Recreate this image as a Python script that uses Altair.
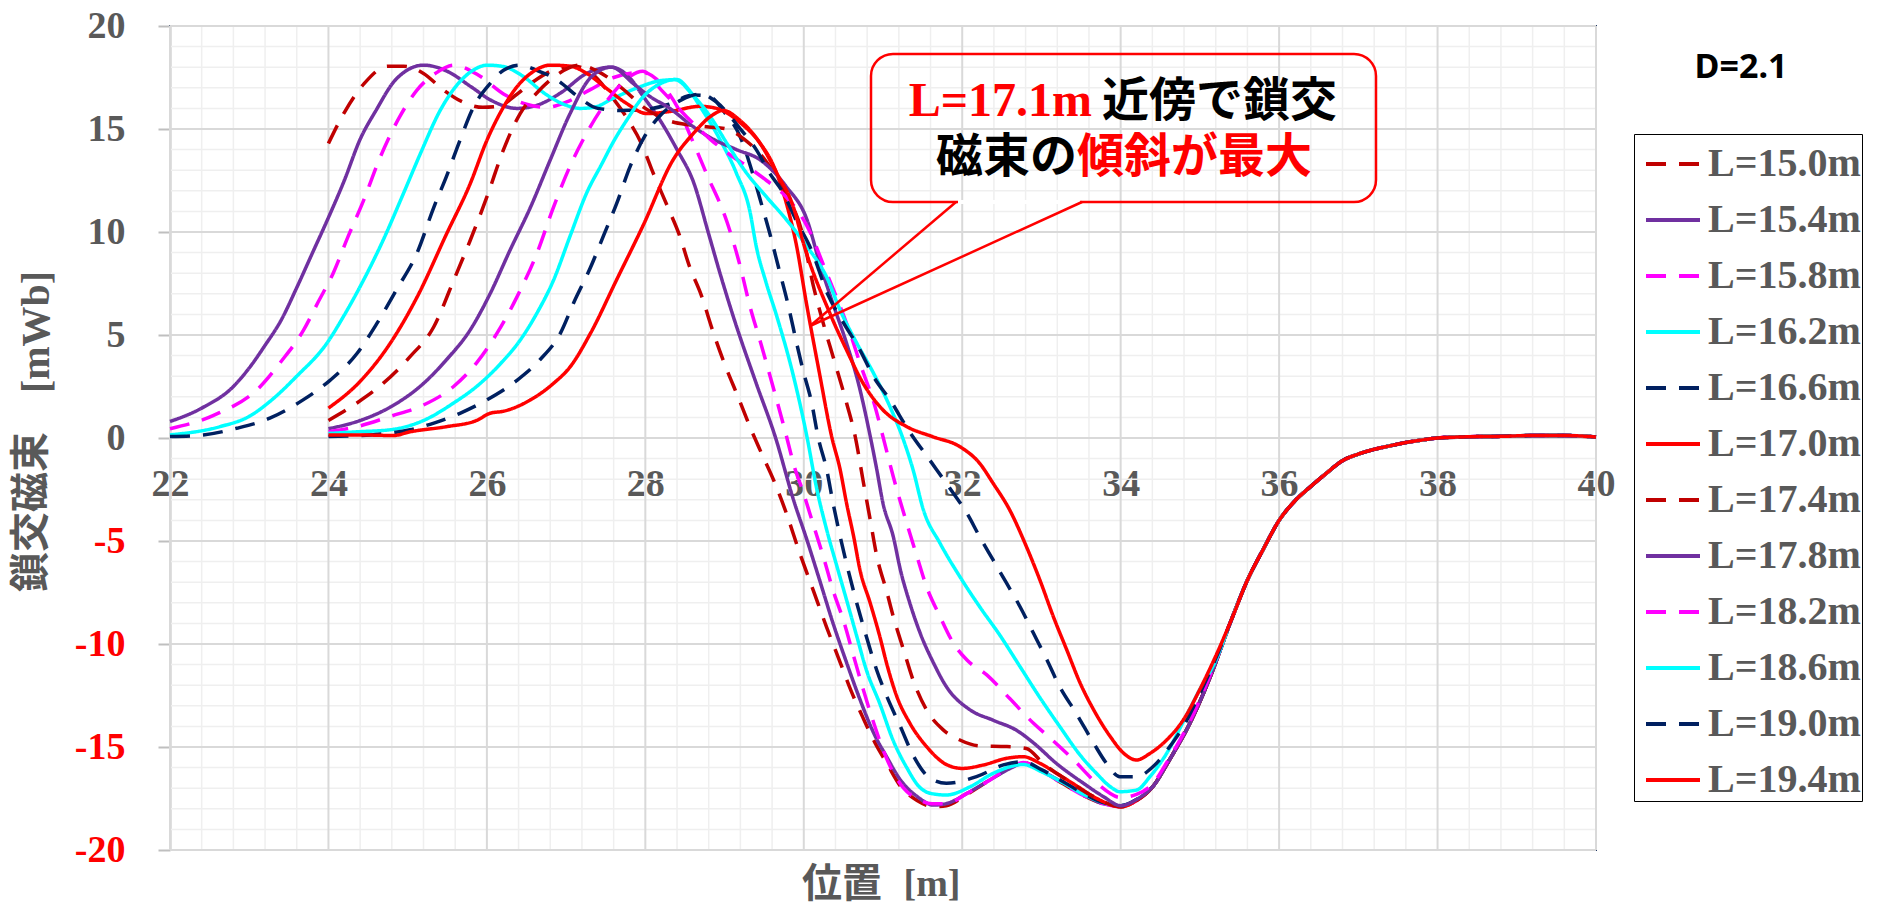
import altair as alt
import pandas as pd

LABELS = ["L=15.0m", "L=15.4m", "L=15.8m", "L=16.2m", "L=16.6m", "L=17.0m",
          "L=17.4m", "L=17.8m", "L=18.2m", "L=18.6m", "L=19.0m", "L=19.4m"]
COLORS = ["#C00000", "#7030A0", "#FF00FF", "#00FFFF", "#002060", "#FF0000",
          "#C00000", "#7030A0", "#FF00FF", "#00FFFF", "#002060", "#FF0000"]
DASHES = [[20, 13], [1, 0], [20, 13], [1, 0], [20, 13], [1, 0],
          [20, 13], [1, 0], [20, 13], [1, 0], [20, 13], [1, 0]]

S15_0 = [(24.0, 14.3), (24.2, 15.8), (24.45, 17.2), (24.75, 18.05), (24.95, 18.05), (25.2, 17.7),
         (25.45, 16.9), (25.7, 16.3), (25.95, 16.05), (26.15, 16.1), (26.35, 16.6), (26.55, 17.2),
         (26.8, 17.8), (27.1, 18.05), (27.35, 17.6), (27.57, 16.6), (27.79, 15.4), (27.95, 14.3),
         (28.1, 12.85), (28.29, 11.15), (28.43, 9.85), (28.56, 8.3), (28.7, 7.0), (28.86, 5.1),
         (29.0, 3.6), (29.17, 2.0), (29.32, 0.55), (29.45, -0.6), (29.62, -2.05), (29.78, -3.65),
         (29.95, -5.6), (30.12, -7.4), (30.29, -9.2), (30.46, -10.9), (30.6, -12.3), (30.75, -13.6),
         (30.9, -14.8), (31.05, -15.8), (31.22, -16.9), (31.43, -17.6), (31.65, -17.9), (31.8, -17.85),
         (32.06, -17.3), (32.35, -16.6), (32.6, -16.0), (32.77, -15.75), (33.02, -16.2), (33.28, -16.8),
         (33.53, -17.35), (33.78, -17.75), (34.0, -17.9), (34.2, -17.6), (34.4, -16.95), (34.62, -15.6),
         (34.88, -13.8), (35.13, -11.6)]
S15_4 = [(22.0, 0.8), (22.4, 1.45), (22.8, 2.5), (23.0, 3.4), (23.2, 4.5), (23.4, 5.7), (23.6, 7.3),
         (23.8, 9.0), (24.0, 10.7), (24.2, 12.5), (24.4, 14.5), (24.6, 15.9), (24.85, 17.4), (25.2, 18.1),
         (25.5, 17.8), (25.8, 17.05), (26.05, 16.4), (26.38, 16.0), (26.63, 16.15), (26.93, 16.75),
         (27.26, 17.7), (27.57, 18.0), (27.8, 17.5), (27.97, 16.6), (28.19, 15.4), (28.4, 14.0),
         (28.61, 12.4), (28.8, 9.9), (28.95, 7.9), (29.11, 5.9), (29.4, 2.65), (29.64, 0.06),
         (29.87, -3.0), (30.04, -4.95), (30.2, -6.9), (30.37, -9.0), (30.54, -10.9), (30.71, -12.7),
         (30.88, -14.3), (31.05, -15.5), (31.22, -16.6), (31.43, -17.4), (31.64, -17.82), (31.8, -17.75),
         (32.06, -17.25), (32.35, -16.6), (32.6, -16.05), (32.77, -15.8), (33.02, -16.2), (33.28, -16.75),
         (33.53, -17.3), (33.78, -17.75), (34.0, -17.85), (34.2, -17.57), (34.4, -16.95), (34.62, -15.6),
         (34.88, -13.8), (35.13, -11.6)]
S15_8 = [(22.0, 0.45), (22.55, 1.1), (23.14, 2.5), (23.4, 3.7), (23.68, 5.2), (23.87, 6.6), (24.06, 8.0),
         (24.25, 9.8), (24.44, 11.5), (24.65, 13.6), (24.9, 15.6), (25.12, 16.9), (25.35, 17.7),
         (25.58, 18.1), (25.9, 17.6), (26.21, 16.7), (26.5, 16.2), (26.75, 16.05), (27.0, 16.3),
         (27.3, 16.9), (27.6, 17.5), (27.97, 17.75), (28.2, 17.2), (28.4, 16.1), (28.61, 14.3),
         (28.77, 12.85), (29.03, 10.5), (29.2, 8.3), (29.32, 6.4), (29.45, 4.7), (29.64, 2.1),
         (29.76, 0.4), (29.89, -1.5), (29.99, -2.6), (30.12, -4.2), (30.25, -5.8), (30.37, -7.4),
         (30.5, -8.85), (30.63, -10.6), (30.75, -12.2), (30.88, -13.8), (31.05, -15.6), (31.26, -17.0),
         (31.45, -17.55), (31.62, -17.75), (31.8, -17.75), (32.06, -17.25), (32.35, -16.6), (32.6, -16.0),
         (32.77, -15.75), (33.02, -16.2), (33.28, -16.8), (33.53, -17.35), (33.78, -17.75), (34.0, -17.9),
         (34.2, -17.6), (34.4, -16.95), (34.62, -15.6), (34.88, -13.8), (35.13, -11.6)]
S16_2 = [(22.0, 0.15), (22.63, 0.55), (23.0, 1.05), (23.3, 1.9), (23.6, 3.0), (23.98, 4.6), (24.19, 5.9),
         (24.4, 7.35), (24.69, 9.6), (24.95, 11.9), (25.16, 13.8), (25.41, 15.9), (25.66, 17.3),
         (25.87, 17.95), (26.0, 18.1), (26.21, 18.03), (26.46, 17.55), (26.72, 16.75), (26.97, 16.2),
         (27.18, 16.0), (27.35, 16.05), (27.6, 16.5), (27.9, 17.0), (28.2, 17.35), (28.4, 17.4),
         (28.55, 16.9), (28.69, 16.1), (28.94, 14.5), (29.15, 12.85), (29.32, 11.0), (29.4, 9.3),
         (29.52, 7.6), (29.66, 5.9), (29.87, 3.0), (30.04, 0.06), (30.16, -2.4), (30.29, -4.47),
         (30.42, -6.25), (30.54, -7.86), (30.67, -9.64), (30.79, -11.26), (30.96, -12.9), (31.13, -14.7),
         (31.3, -16.0), (31.45, -16.9), (31.6, -17.25), (31.8, -17.33), (32.1, -16.93), (32.39, -16.28),
         (32.77, -15.85), (33.0, -16.2), (33.28, -16.75), (33.53, -17.3), (33.78, -17.7), (34.0, -17.85),
         (34.2, -17.55), (34.4, -16.95), (34.62, -15.6), (34.88, -13.8), (35.13, -11.6)]
S16_6 = [(22.0, 0.07), (22.42, 0.15), (22.84, 0.47), (23.26, 0.96), (23.68, 1.85), (24.02, 2.8),
         (24.36, 4.1), (24.61, 5.55), (24.86, 7.2), (25.12, 9.0), (25.33, 11.2), (25.49, 12.7),
         (25.66, 14.45), (25.83, 16.05), (26.04, 17.2), (26.21, 17.85), (26.42, 18.1), (26.63, 17.85),
         (26.88, 17.4), (27.14, 16.6), (27.4, 16.0), (27.7, 15.9), (28.0, 15.95), (28.3, 16.2),
         (28.6, 16.65), (28.8, 16.6), (29.0, 15.8), (29.2, 14.6), (29.35, 12.9), (29.47, 11.3),
         (29.58, 9.8), (29.68, 8.3), (29.8, 6.5), (29.91, 4.6), (29.99, 3.3), (30.1, 1.7), (30.18, 0.06),
         (30.29, -1.55), (30.37, -3.17), (30.46, -4.79), (30.56, -6.41), (30.67, -8.03), (30.79, -9.64),
         (30.92, -11.26), (31.05, -12.56), (31.22, -14.01), (31.38, -15.4), (31.59, -16.5), (31.8, -16.76),
         (32.18, -16.44), (32.52, -15.87), (32.77, -15.71), (33.0, -16.1), (33.28, -16.7), (33.53, -17.25),
         (33.78, -17.7), (34.0, -17.85), (34.2, -17.55), (34.4, -16.95), (34.62, -15.6), (34.88, -13.8),
         (35.13, -11.6)]
S17_0 = [(24.0, 1.45), (24.4, 2.75), (24.78, 4.6), (25.12, 6.85), (25.49, 9.9), (25.79, 12.35),
         (26.0, 14.45), (26.2, 16.0), (26.38, 17.05), (26.59, 17.8), (26.8, 18.1), (27.05, 18.05),
         (27.26, 17.7), (27.5, 17.0), (27.76, 16.25), (28.02, 15.75), (28.31, 15.85), (28.69, 16.1),
         (28.9, 16.0), (29.2, 15.3), (29.45, 14.3), (29.62, 13.2), (29.78, 11.4), (29.9, 9.5),
         (30.04, 6.4), (30.2, 3.1), (30.35, 0.1), (30.46, -1.55), (30.54, -3.17), (30.63, -4.79),
         (30.71, -6.41), (30.84, -8.03), (30.96, -9.64), (31.05, -11.0), (31.17, -12.5), (31.34, -13.85),
         (31.55, -14.98), (31.8, -15.85), (32.0, -16.04), (32.27, -15.87), (32.56, -15.55), (32.77, -15.47),
         (32.98, -15.79), (33.2, -16.3), (33.45, -16.9), (33.7, -17.5), (34.0, -17.9), (34.2, -17.6),
         (34.4, -16.95), (34.62, -15.6), (34.88, -13.8), (35.13, -11.6)]
S17_4 = [(24.0, 0.85), (24.36, 1.7), (24.69, 2.65), (25.03, 3.95), (25.33, 5.4), (25.58, 7.65),
         (25.79, 9.6), (26.0, 11.7), (26.21, 14.0), (26.42, 15.75), (26.63, 16.75), (26.84, 17.5),
         (27.18, 18.1), (27.4, 17.8), (27.7, 17.0), (28.0, 16.0), (28.3, 15.4), (28.55, 15.2),
         (28.8, 15.1), (29.03, 15.0), (29.25, 14.5), (29.53, 13.4), (29.8, 11.7), (29.97, 10.1),
         (30.12, 7.4), (30.27, 5.24), (30.37, 3.95), (30.54, 1.7), (30.65, 0.06), (30.75, -2.1),
         (30.84, -4.0), (30.92, -5.7), (31.05, -7.5), (31.13, -8.67), (31.26, -10.29), (31.38, -11.75),
         (31.55, -13.2), (31.76, -14.17), (31.97, -14.66), (32.22, -14.95), (32.56, -14.98), (32.81, -15.07),
         (33.02, -15.79), (33.32, -16.6), (33.66, -17.41), (34.0, -17.9), (34.2, -17.6), (34.4, -16.95),
         (34.62, -15.6), (34.88, -13.8), (35.13, -11.6)]
S17_8 = [(24.0, 0.45), (24.4, 0.85), (24.78, 1.5), (25.2, 2.65), (25.49, 3.8), (25.79, 5.25), (26.04, 7.0),
         (26.29, 9.1), (26.55, 11.2), (26.8, 13.5), (27.05, 15.75), (27.31, 17.5), (27.57, 18.0),
         (27.85, 17.2), (28.05, 16.6), (28.31, 16.0), (28.61, 15.1), (28.86, 14.5), (29.15, 14.0),
         (29.45, 13.5), (29.78, 12.2), (30.04, 10.6), (30.2, 8.5), (30.37, 6.5), (30.54, 4.6),
         (30.69, 2.65), (30.84, 0.06), (30.92, -1.5), (31.0, -3.17), (31.13, -4.79), (31.22, -6.41),
         (31.34, -8.03), (31.47, -9.48), (31.64, -10.94), (31.8, -12.07), (32.1, -13.2), (32.39, -13.7),
         (32.69, -14.2), (32.9, -14.8), (33.19, -15.8), (33.53, -16.76), (33.78, -17.4), (34.0, -17.85),
         (34.2, -17.55), (34.4, -16.95), (34.62, -15.6), (34.88, -13.8), (35.13, -11.6)]
S18_2 = [(24.0, 0.3), (24.36, 0.55), (24.78, 1.05), (25.2, 1.6), (25.58, 2.5), (25.87, 3.65), (26.13, 5.1),
         (26.38, 6.85), (26.63, 8.95), (26.84, 11.2), (27.05, 13.2), (27.26, 14.8), (27.45, 16.0),
         (27.7, 17.2), (27.97, 17.8), (28.2, 16.9), (28.52, 15.6), (28.82, 14.5), (29.05, 13.8),
         (29.28, 13.2), (29.53, 12.5), (29.78, 11.7), (30.04, 10.3), (30.29, 8.0), (30.41, 6.86),
         (30.6, 4.92), (30.71, 3.62), (30.9, 1.52), (31.0, 0.06), (31.13, -1.88), (31.3, -4.14),
         (31.43, -5.76), (31.55, -7.22), (31.72, -8.67), (31.89, -9.97), (32.06, -10.78), (32.31, -11.5),
         (32.6, -12.65), (32.9, -13.85), (33.15, -14.7), (33.4, -15.6), (33.7, -16.76), (34.0, -17.45),
         (34.2, -17.3), (34.4, -16.8), (34.62, -15.5), (34.88, -13.7), (35.13, -11.5)]
S18_6 = [(24.0, 0.22), (24.36, 0.3), (24.78, 0.4), (25.2, 0.85), (25.58, 1.7), (25.87, 2.5), (26.17, 3.6),
         (26.42, 4.75), (26.63, 6.05), (26.84, 7.65), (27.05, 9.8), (27.26, 11.9), (27.45, 13.3),
         (27.6, 14.4), (27.76, 15.4), (27.97, 16.55), (28.19, 17.2), (28.37, 17.4), (28.61, 16.6),
         (28.82, 15.6), (29.03, 14.3), (29.28, 12.85), (29.53, 11.7), (29.78, 10.6), (30.04, 9.3),
         (30.29, 7.8), (30.46, 6.2), (30.67, 4.6), (30.88, 3.15), (31.09, 1.5), (31.24, 0.1),
         (31.38, -1.55), (31.51, -3.49), (31.72, -5.11), (31.97, -6.73), (32.22, -8.19), (32.48, -9.6),
         (32.73, -11.1), (32.98, -12.6), (33.23, -14.0), (33.49, -15.4), (33.7, -16.3), (33.87, -16.93),
         (33.99, -17.17), (34.2, -17.09), (34.37, -16.44), (34.58, -15.31), (34.8, -13.7), (35.0, -12.2),
         (35.2, -10.8)]
S19_0 = [(24.0, 0.07), (24.53, 0.15), (25.03, 0.4), (25.35, 0.75), (25.66, 1.2), (26.0, 1.85), (26.38, 2.8),
         (26.67, 3.8), (26.93, 5.1), (27.1, 6.6), (27.31, 8.3), (27.47, 9.8), (27.64, 11.4), (27.81, 13.2),
         (28.0, 14.7), (28.2, 15.7), (28.45, 16.4), (28.7, 16.7), (28.9, 16.3), (29.2, 15.0), (29.4, 14.0),
         (29.57, 12.85), (29.74, 11.9), (29.9, 10.6), (30.1, 9.1), (30.3, 7.0), (30.5, 5.6), (30.71, 4.27),
         (30.88, 2.98), (31.09, 1.84), (31.32, 0.39), (31.59, -1.07), (31.8, -2.2), (31.89, -2.69),
         (32.06, -3.66), (32.22, -4.79), (32.39, -5.92), (32.56, -7.05), (32.73, -8.19), (32.9, -9.48),
         (33.07, -10.78), (33.23, -12.07), (33.44, -13.37), (33.66, -14.82), (33.82, -15.79),
         (33.99, -16.44), (34.2, -16.44), (34.41, -15.95), (34.62, -14.98), (34.79, -14.01), (35.0, -12.4),
         (35.2, -10.7)]
S19_4 = [(24.0, 0.15), (24.4, 0.15), (24.82, 0.12), (25.03, 0.3), (25.49, 0.55), (25.87, 0.85), (26.04, 1.2),
         (26.21, 1.3), (26.55, 1.85), (26.84, 2.65), (27.05, 3.45), (27.31, 5.1), (27.64, 7.7), (27.97, 10.3),
         (28.35, 13.5), (28.61, 14.8), (28.82, 15.6), (28.98, 15.9), (29.2, 15.4), (29.45, 14.3),
         (29.66, 12.85), (29.87, 11.2), (30.0, 9.4), (30.33, 6.05), (30.54, 4.27), (30.75, 2.65),
         (31.0, 1.36), (31.3, 0.55), (31.63, 0.06), (31.97, -0.42), (32.22, -1.23), (32.39, -2.2),
         (32.6, -3.5), (32.81, -5.27), (32.98, -6.89), (33.15, -8.67), (33.32, -10.29), (33.49, -11.91),
         (33.66, -13.2), (33.87, -14.5), (34.04, -15.31), (34.2, -15.63), (34.37, -15.31), (34.58, -14.66),
         (34.79, -13.69), (35.0, -12.2), (35.21, -10.5)]
TAIL = [(35.4, -8.8), (35.6, -6.9), (35.8, -5.4), (36.0, -4.0), (36.2, -3.05), (36.4, -2.35), (36.6, -1.7),
        (36.8, -1.1), (37.0, -0.78), (37.2, -0.55), (37.4, -0.38), (37.6, -0.22), (37.8, -0.1), (38.0, 0.0),
        (38.4, 0.06), (38.8, 0.08), (39.2, 0.12), (39.6, 0.12), (40.0, 0.05)]

SERIES = [S15_0, S15_4, S15_8, S16_2, S16_6, S17_0, S17_4, S17_8, S18_2, S18_6, S19_0, S19_4]

GX_MAJOR = [22, 24, 26, 28, 30, 32, 34, 36, 38, 40]
GY_MAJOR = [-20, -15, -10, -5, 0, 5, 10, 15, 20]
GX_MINOR = [round(22 + 0.4 * i, 1) for i in range(46) if i % 5 != 0]
GY_MINOR = [v for v in range(-19, 20) if v % 5 != 0]

rows = []
for lab, pts in zip(LABELS, SERIES):
    for (x, y) in pts + TAIL:
        rows.append({"series": lab, "x": x, "y": y})
df = pd.DataFrame(rows)

W, H = 1426, 824
xs = alt.Scale(domain=[22, 40], nice=False, zero=False)
ys = alt.Scale(domain=[-20, 20], nice=False, zero=False)

SERIF = "Liberation Serif"
CJK = "Noto Sans CJK JP"
GRAY = "#595959"

x_axis = alt.Axis(values=GX_MAJOR, offset=-412, grid=False, domain=False, ticks=False,
                  labelFont=SERIF, labelFontWeight="bold", labelFontSize=38, labelColor=GRAY,
                  labelPadding=27, labelFlush=False, labelOverlap=False, title=None,
                  labelExpr="'' + datum.value")
y_axis = alt.Axis(values=GY_MAJOR, grid=False, domain=True, domainColor="#bfbfbf", domainWidth=2,
                  ticks=True, tickColor="#bfbfbf", tickSize=12, tickWidth=2,
                  labelFont=SERIF, labelFontWeight="bold", labelFontSize=38,
                  labelColor=alt.ExprRef("datum.value < 0 ? '#FF0000' : '#595959'"),
                  labelPadding=33, labelOverlap=False, title=None,
                  labelExpr="'' + datum.value")

minor_x = alt.Chart(pd.DataFrame({"x": GX_MINOR})).mark_rule(color="#efefef", strokeWidth=1.5).encode(
    x=alt.X("x:Q", scale=xs, axis=x_axis))
minor_y = alt.Chart(pd.DataFrame({"y": GY_MINOR})).mark_rule(color="#efefef", strokeWidth=1.5).encode(
    y=alt.Y("y:Q", scale=ys, axis=y_axis))
major_x = alt.Chart(pd.DataFrame({"x": GX_MAJOR})).mark_rule(color="#d9d9d9", strokeWidth=2).encode(
    x=alt.X("x:Q", scale=xs, axis=x_axis))
major_y = alt.Chart(pd.DataFrame({"y": GY_MAJOR})).mark_rule(color="#d9d9d9", strokeWidth=2).encode(
    y=alt.Y("y:Q", scale=ys, axis=y_axis))

legend = alt.Legend(orient="none", legendX=1464, legendY=108, title=None,
                    labelFont=SERIF, labelFontWeight="bold", labelFontSize=40, labelColor=GRAY,
                    labelLimit=400, symbolType="stroke", symbolSize=2916, symbolStrokeWidth=4,
                    symbolOffset=9, labelOffset=6, rowPadding=7, padding=1,
                    strokeColor="black", fillColor="white")

lines = alt.Chart(df).mark_line(strokeWidth=3.5, interpolate="monotone").encode(
    x=alt.X("x:Q", scale=xs, axis=x_axis),
    y=alt.Y("y:Q", scale=ys, axis=y_axis),
    color=alt.Color("series:N", scale=alt.Scale(domain=LABELS, range=COLORS), legend=legend),
    strokeDash=alt.StrokeDash("series:N", scale=alt.Scale(domain=LABELS, range=DASHES), legend=legend),
)

one = pd.DataFrame({"a": [0]})

box = alt.Chart(one).mark_rect(cornerRadius=22, fillOpacity=0, stroke="#FF0000", strokeWidth=2.5).encode(
    x=alt.value(701), x2=alt.value(1206), y=alt.value(28), y2=alt.value(176))
gap = alt.Chart(one).mark_rule(color="white", strokeWidth=4).encode(
    x=alt.value(788), x2=alt.value(910), y=alt.value(176))
wedge1 = alt.Chart(one).mark_rule(color="#FF0000", strokeWidth=2.5).encode(
    x=alt.value(786), y=alt.value(176), x2=alt.value(640), y2=alt.value(300))
wedge2 = alt.Chart(one).mark_rule(color="#FF0000", strokeWidth=2.5).encode(
    x=alt.value(912), y=alt.value(176), x2=alt.value(640), y2=alt.value(300))


def txt(text, x, y, font, size, color, align="center", angle=0):
    kw = dict(text=text, font=font, fontSize=size, fontWeight="bold", color=color,
              align=align, baseline="middle")
    if angle:
        kw["angle"] = angle
    return alt.Chart(one).mark_text(**kw).encode(x=alt.value(x), y=alt.value(y))


texts = [
    txt("L=17.1m", 922, 76, SERIF, 48, "#FF0000", align="right"),
    txt("近傍で鎖交", 932, 76, CJK, 47, "black", align="left"),
    txt("磁束の", 907, 132, CJK, 47, "black", align="right"),
    txt("傾斜が最大", 907, 132, CJK, 47, "#FF0000", align="left"),
    txt("D=2.1", 1571, 42, "Noto Sans", 34, "black"),
    txt("位置", 672, 859, CJK, 40, GRAY),
    txt("[m]", 762, 859, SERIF, 38, GRAY),
    txt("鎖交磁束", -138, 486, CJK, 40, GRAY, angle=270),
    txt("[mWb]", -133, 306, SERIF, 40, GRAY, angle=270),
]

chart = alt.layer(minor_x, minor_y, major_x, major_y, lines, box, gap, wedge1, wedge2, *texts).properties(
    width=W, height=H,
    padding={"left": 170, "top": 26, "right": 281, "bottom": 56},
    autosize=alt.AutoSizeParams(type="none"),
).configure_view(stroke="#203864", strokeWidth=2)

chart.save("out.html", embed_options={"renderer": "svg", "actions": False})
